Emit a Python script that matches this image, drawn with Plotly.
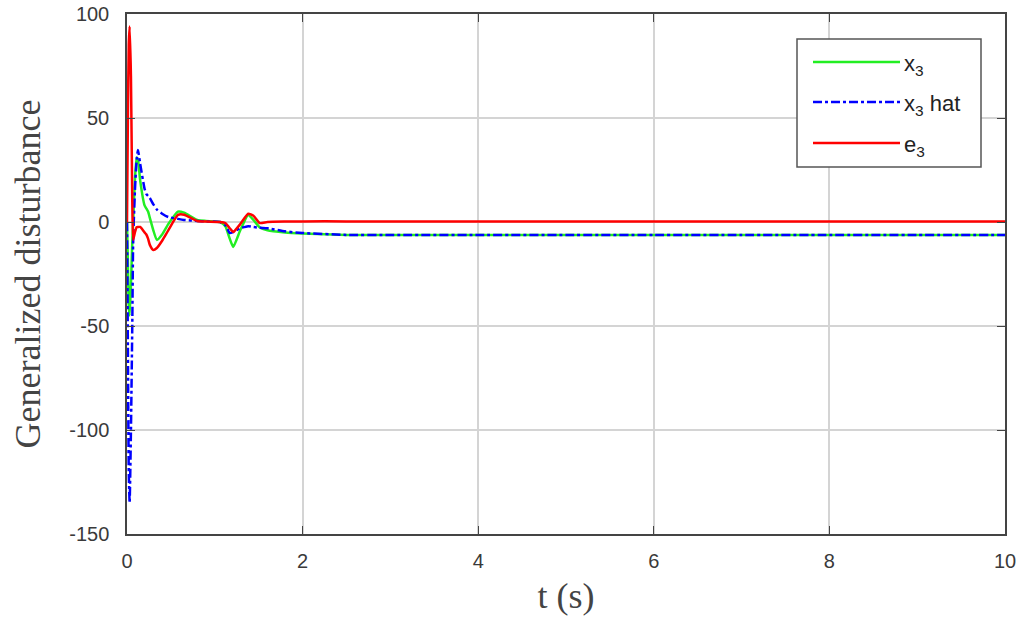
import plotly.graph_objects as go

# ---- data ----
t = [0, 0.01, 0.02, 0.03, 0.045, 0.06, 0.07, 0.09, 0.11, 0.125,
     0.15, 0.2, 0.22, 0.24, 0.26, 0.3, 0.34, 0.4, 0.47, 0.58,
     0.65, 0.8, 0.9, 1.06, 1.12, 1.17, 1.21, 1.29, 1.38, 1.44,
     1.51, 1.6, 1.8, 2.0, 2.5, 3, 4, 5, 6, 7, 8, 9, 10]

x3 = [0, -20, -40, -45, -30, -10, 0, 20, 31, 30,
      20, 8, 6.5, 5, 2, -4, -8.6, -6, -1, 5,
      4.5, 1, 0.5, 0, -2, -8, -12, -4, 3.4, 1,
      -2.5, -4, -5, -5.5, -6.2, -6.3, -6.3, -6.3, -6.3, -6.3, -6.3, -6.3, -6.3]

x3_hat = [0, -60, -120, -135, -100, -50, -10, 15, 30, 34.6,
          28, 16, 13.5, 12.5, 11.5, 8.5, 6, 4, 2.4, 1.5,
          1, 0.5, 0.3, 0, -1.5, -5.3, -4.8, -3, -2, -2.4,
          -2.8, -3, -4.5, -5.3, -6.2, -6.3, -6.3, -6.3, -6.3, -6.3, -6.3, -6.3, -6.3]

e3 = [0, 50, 85, 94, 70, 10, -8.6, -5, -2.5, -2.4,
      -2.4, -5, -6, -8, -11, -13.5, -12.5, -9, -4, 3.4,
      3.5, 0.5, 0.2, 0, -0.5, -3, -4.8, -1, 4, 3,
      -0.5, 0, 0.2, 0.3, 0.3, 0.3, 0.3, 0.3, 0.3, 0.3, 0.3, 0.3, 0.3]

x_ticks = [0, 2, 4, 6, 8, 10]
y_ticks = [-150, -100, -50, 0, 50, 100]

GREEN = "#22ee22"
BLUE = "#0000ff"
RED = "#ff0000"

fig = go.Figure()
fig.add_trace(go.Scatter(x=t, y=x3, mode="lines", name="x3",
                         line=dict(color=GREEN, width=2.5, shape="spline", smoothing=0.5)))
fig.add_trace(go.Scatter(x=t, y=x3_hat, mode="lines", name="x3 hat",
                         line=dict(color=BLUE, width=2.5, dash="dashdot", shape="spline", smoothing=0.5)))
fig.add_trace(go.Scatter(x=t, y=e3, mode="lines", name="e3",
                         line=dict(color=RED, width=2.5, shape="spline", smoothing=0.5)))

# plot area in screen pixels
L, R, T, B = 127, 1005, 14, 534
W, H = 1022, 625

def px(xp):
    return (xp - L) / (R - L)
def py(yp):
    return (B - yp) / (B - T)

# ---- custom legend box (paper coordinates) ----
shapes = [dict(type="rect", xref="paper", yref="paper",
               x0=px(797), x1=px(981), y0=py(167), y1=py(39),
               line=dict(color="#555555", width=1.5), fillcolor="white", layer="above")]
annotations = []
legend_items = [("x<sub>3</sub>", GREEN, "solid", 62),
                ("x<sub>3</sub> hat", BLUE, "dashdot", 102),
                ("e<sub>3</sub>", RED, "solid", 143)]
for label, col, dash, yy in legend_items:
    shapes.append(dict(type="line", xref="paper", yref="paper",
                       x0=px(813), x1=px(900), y0=py(yy), y1=py(yy),
                       line=dict(color=col, width=2.5, dash=dash), layer="above"))
    annotations.append(dict(xref="paper", yref="paper", x=px(902), y=py(yy + 3),
                            text=label, showarrow=False, xanchor="left", yanchor="middle",
                            font=dict(family="Liberation Sans, Arial", size=22, color="#222222")))

fig.update_layout(
    width=W, height=H,
    margin=dict(l=L, r=W - R, t=T, b=H - B, autoexpand=False),
    paper_bgcolor="white", plot_bgcolor="white",
    showlegend=False,
    shapes=shapes, annotations=annotations,
    font=dict(family="Liberation Sans, Arial", size=20, color="#3a3a3a"),
)
fig.update_xaxes(range=[0, 10], tickvals=x_ticks, ticktext=[str(v) for v in x_ticks],
                 automargin=False, ticklabeloverflow="allow",
                 showgrid=True, gridcolor="#d4d4d4", gridwidth=1.5,
                 showline=True, linecolor="#444444", linewidth=1.5, mirror="ticks",
                 ticks="inside", ticklen=8, tickcolor="#444444", zeroline=False,
                 ticklabelstandoff=8,
                 title=dict(text="t (s)", standoff=12,
                            font=dict(family="Liberation Serif, Times New Roman", size=36, color="#444444")))
fig.update_yaxes(range=[-150, 100], tickvals=y_ticks, ticktext=[str(v) for v in y_ticks],
                 automargin=False, ticklabeloverflow="allow",
                 showgrid=True, gridcolor="#d4d4d4", gridwidth=1.5,
                 showline=True, linecolor="#444444", linewidth=1.5, mirror="ticks",
                 ticks="inside", ticklen=8, tickcolor="#444444", zeroline=False,
                 ticklabelstandoff=12,
                 title=dict(text="Generalized disturbance", standoff=18,
                            font=dict(family="Liberation Serif, Times New Roman", size=36, color="#444444")))

fig.write_html("out.html",
               config={"displayModeBar": False},
               post_script="document.body.style.margin='0px';document.body.style.overflow='hidden';")
